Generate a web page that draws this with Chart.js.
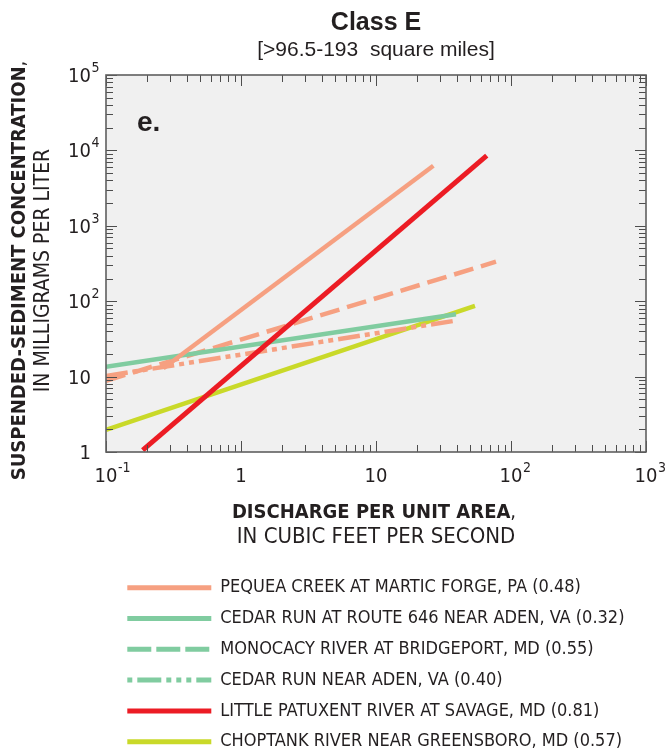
<!DOCTYPE html>
<html>
<head>
<meta charset="utf-8">
<script src="https://cdn.jsdelivr.net/npm/chart.js@4.4.0/dist/chart.umd.min.js"></script>
<style>
  html, body { margin: 0; padding: 0; background: #fff; }
  #wrap { position: relative; width: 667px; height: 755px; }
</style>
</head>
<body>
<div id="wrap"><canvas id="chart"></canvas></div>
<script>
// Rating curves, class E
const seriesNames = [
    'PEQUEA CREEK AT MARTIC FORGE, PA (0.48)',
    'CEDAR RUN AT ROUTE 646 NEAR ADEN, VA (0.32)',
    'MONOCACY RIVER AT BRIDGEPORT, MD (0.55)',
    'CEDAR RUN NEAR ADEN, VA (0.40)',
    'LITTLE PATUXENT RIVER AT SAVAGE, MD (0.81)',
    'CHOPTANK RIVER NEAR GREENSBORO, MD (0.57)'
];
const pequeaX = [0.266, 26.6];
const pequeaY = [12.9, 6270];
const cedar646X = [0.1, 39.1];
const cedar646Y = [13.5, 67];
const monocacyX = [0.1, 77.4];
const monocacyY = [8.8, 334];
const cedarAdenX = [0.1, 37.4];
const cedarAdenY = [10.2, 54.6];
const patuxentX = [0.187, 66.1];
const patuxentY = [1.06, 8510];
const choptankX = [0.1, 54.1];
const choptankY = [1.96, 86.4];

// axis tick labels (base + superscript)
const xTickValues = [0.1, 1, 10, 100, 1000];
const xTickBase = ['10', '1', '10', '10', '10'];
const xTickExp = ['-1', '', '', '2', '3'];
const yTickValues = [1, 10, 100, 1000, 10000, 100000];
const yTickBase = ['1', '10', '10', '10', '10', '10'];
const yTickExp = ['', '', '2', '3', '4', '5'];

const SALMON = '#f6a081', GREEN = '#80cca0', RED = '#ec1c24', LIME = '#c9d929';
const NARROW = '"Liberation Sans Narrow", "DejaVu Sans Condensed", sans-serif';
const SANS = '"Liberation Sans", Arial, sans-serif';

function pts(xs, ys) { return xs.map((x, i) => ({ x: x, y: ys[i] })); }

const seriesData = [
    pts(pequeaX, pequeaY), pts(cedar646X, cedar646Y), pts(monocacyX, monocacyY),
    pts(cedarAdenX, cedarAdenY), pts(patuxentX, patuxentY), pts(choptankX, choptankY)
];
const lineColors = [SALMON, GREEN, SALMON, SALMON, RED, LIME];
const legendColors = [SALMON, GREEN, GREEN, GREEN, RED, LIME];
const lineDashes = [[], [], [20, 8], [22, 5, 5, 5, 5, 5], [], []];
// legend lines are drawn right-to-left by Chart.js, so the phase is flipped
const legendDashes = [[], [], [24, 5], [5, 5, 24, 5, 5, 5, 5, 5], [], []];
const drawOrder = [1, 2, 3, 4, 0, 5];

const datasets = seriesNames.map((name, i) => ({
    label: name,
    data: seriesData[i],
    borderColor: lineColors[i],
    backgroundColor: lineColors[i],
    borderWidth: i === 4 ? 5 : 4.5,
    borderDash: lineDashes[i],
    showLine: true,
    pointRadius: 0,
    fill: false,
    order: drawOrder[i]
}));

function drawTicks(ctx, area, xs, ys) {
    const major = 11, minor = 7;
    ctx.save();
    ctx.strokeStyle = '#4d4d4d';
    ctx.lineWidth = 1;
    ctx.beginPath();
    for (let d = -1; d <= 3; d++) {
        for (let k = 1; k <= 9; k++) {
            if (d === 3 && k > 1) break;
            const v = k * Math.pow(10, d);
            const len = k === 1 ? major : minor;
            const px = Math.round(xs.getPixelForValue(v)) + 0.5;
            ctx.moveTo(px, area.bottom); ctx.lineTo(px, area.bottom - len);
            ctx.moveTo(px, area.top); ctx.lineTo(px, area.top + len);
        }
    }
    for (let d = 0; d <= 5; d++) {
        for (let k = 1; k <= 9; k++) {
            if (d === 5 && k > 1) break;
            const v = k * Math.pow(10, d);
            const len = k === 1 ? major : minor;
            const py = Math.round(ys.getPixelForValue(v)) + 0.5;
            ctx.moveTo(area.left, py); ctx.lineTo(area.left + len, py);
            ctx.moveTo(area.right, py); ctx.lineTo(area.right - len, py);
        }
    }
    ctx.stroke();
    ctx.strokeStyle = '#5f5f5f';
    ctx.lineWidth = 1.6;
    ctx.strokeRect(area.left, area.top, area.right - area.left, area.bottom - area.top);
    ctx.restore();
}

// bold title line with a plain-weight trailing comma, centred on cx
function boldWithComma(ctx, text, cx, y, size) {
    ctx.font = 'bold ' + size + 'px ' + NARROW;
    const w = ctx.measureText(text).width;
    ctx.font = size + 'px ' + NARROW;
    const wc = ctx.measureText(',').width;
    ctx.textAlign = 'left';
    ctx.font = 'bold ' + size + 'px ' + NARROW;
    ctx.fillText(text, cx - (w + wc) / 2, y);
    ctx.font = size + 'px ' + NARROW;
    ctx.fillText(',', cx - (w + wc) / 2 + w, y);
}

const framePlugin = {
    id: 'frame',
    afterLayout(chart) {
        // push the legend rows right so the samples start under the plot
        const lg = chart.legend;
        if (lg) { lg.left = chart.chartArea.left + 8.5; lg.right = lg.left + lg.width; }
    },
    beforeDatasetsDraw(chart) {
        const a = chart.chartArea, ctx = chart.ctx;
        ctx.save();
        ctx.fillStyle = '#f0f0f0';
        ctx.fillRect(a.left, a.top, a.right - a.left, a.bottom - a.top);
        ctx.restore();
    },
    afterDatasetsDraw(chart) {
        const a = chart.chartArea, ctx = chart.ctx;
        const xs = chart.scales.x, ys = chart.scales.y;
        drawTicks(ctx, a, xs, ys);
        ctx.save();
        ctx.fillStyle = '#231f20';
        ctx.textBaseline = 'alphabetic';
        // x tick labels
        for (let i = 0; i < xTickValues.length; i++) {
            const px = xs.getPixelForValue(xTickValues[i]);
            ctx.font = '20px ' + NARROW;
            const w = ctx.measureText(xTickBase[i]).width;
            ctx.textAlign = 'center';
            ctx.fillText(xTickBase[i], px, a.bottom + 30);
            if (xTickExp[i]) {
                ctx.font = '14px ' + NARROW;
                ctx.textAlign = 'left';
                ctx.fillText(xTickExp[i], px + w / 2 + 0.5, a.bottom + 20);
            }
        }
        // y tick labels
        for (let i = 0; i < yTickValues.length; i++) {
            const py = ys.getPixelForValue(yTickValues[i]);
            ctx.font = '20px ' + NARROW;
            ctx.textAlign = 'right';
            ctx.fillText(yTickBase[i], a.left - 15, py + 7);
            if (yTickExp[i]) {
                ctx.font = '14px ' + NARROW;
                ctx.textAlign = 'left';
                ctx.fillText(yTickExp[i], a.left - 14.5, py - 3);
            }
        }
        // x axis title
        const cx = (a.left + a.right) / 2;
        boldWithComma(ctx, 'DISCHARGE PER UNIT AREA', cx - 2, a.bottom + 66, 20);
        ctx.font = '22px ' + NARROW;
        ctx.textAlign = 'center';
        ctx.fillText('IN CUBIC FEET PER SECOND', cx, a.bottom + 91);
        // y axis title
        const cy = (a.top + a.bottom) / 2 + 7;
        ctx.translate(0, cy);
        ctx.rotate(-Math.PI / 2);
        boldWithComma(ctx, 'SUSPENDED-SEDIMENT CONCENTRATION', 0, 25, 20);
        ctx.font = '21px ' + NARROW;
        ctx.textAlign = 'center';
        ctx.fillText('IN MILLIGRAMS PER LITER', 0, 49);
        ctx.restore();
        // panel letter
        ctx.save();
        ctx.fillStyle = '#231f20';
        ctx.font = 'bold 28px ' + SANS;
        ctx.textAlign = 'left';
        ctx.fillText('e.', a.left + 31, a.top + 48);
        ctx.restore();
    }
};

new Chart(document.getElementById('chart'), {
    type: 'scatter',
    data: { datasets: datasets },
    options: {
        responsive: true,
        maintainAspectRatio: false,
        animation: false,
        layout: { padding: { left: 106, right: 21, top: 0, bottom: 0 } },
        scales: {
            x: {
                type: 'logarithmic', min: 0.1, max: 1000,
                grid: { display: false }, border: { display: false },
                ticks: { display: false },
                afterFit: s => { s.height = 113.9; }
            },
            y: {
                type: 'logarithmic', min: 1, max: 100000, display: false
            }
        },
        plugins: {
            title: {
                display: true, text: 'Class E', fullSize: false, color: '#231f20',
                font: { family: SANS, size: 25, weight: 'bold' },
                padding: { top: 8, bottom: 0 }
            },
            subtitle: {
                display: true, text: '[>96.5-193  square miles]', fullSize: false, color: '#231f20',
                font: { family: SANS, size: 21, weight: 'normal' },
                padding: { top: 0, bottom: 11.8 }
            },
            tooltip: { enabled: false },
            legend: {
                display: true, position: 'bottom', align: 'start', fullSize: false,
                maxHeight: 189.1,
                labels: {
                    usePointStyle: true, pointStyleWidth: 84, padding: 12.8,
                    color: '#231f20',
                    font: { family: NARROW, size: 18 },
                    generateLabels: () => seriesNames.map((name, i) => ({
                        text: name,
                        strokeStyle: legendColors[i],
                        fillStyle: legendColors[i],
                        lineWidth: 5,
                        lineDash: legendDashes[i],
                        lineCap: 'butt',
                        pointStyle: 'line',
                        hidden: false,
                        datasetIndex: i,
                        fontColor: '#231f20'
                    }))
                }
            }
        }
    },
    plugins: [framePlugin]
});
</script>
</body>
</html>
